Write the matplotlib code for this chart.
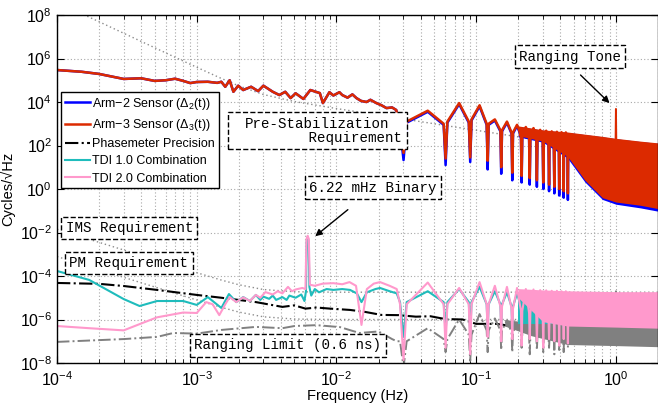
import matplotlib
matplotlib.use("Agg")
import matplotlib.pyplot as plt
import numpy as np

plt.rcParams["font.family"] = ["Liberation Sans", "DejaVu Sans"]
plt.rcParams["mathtext.fontset"] = "custom"
plt.rcParams["mathtext.rm"] = "Liberation Sans"
plt.rcParams["mathtext.it"] = "Liberation Sans:italic"
plt.rcParams["mathtext.bf"] = "Liberation Sans:bold"

# ---- data (values are log10 of cycles/sqrt(Hz)) ----
# arm sensors, low frequency part (both arms overlap here)
arm_lo_f = [1e-4, 1.5e-4, 2e-4, 3e-4, 4e-4, 5e-4, 6e-4, 7e-4, 8e-4, 9e-4, 1e-3,
            1.2e-3, 1.4e-3, 1.5e-3, 1.6e-3, 1.72e-3, 1.83e-3, 1.98e-3, 2.15e-3,
            2.45e-3, 2.75e-3, 3.0e-3, 3.5e-3, 3.9e-3, 4.3e-3, 4.7e-3, 5.1e-3,
            5.8e-3, 6.5e-3, 7.6e-3, 8.0e-3, 8.9e-3, 0.0095, 0.0105, 0.011,
            0.012, 0.013, 0.0139, 0.015, 0.0164, 0.0175, 0.0193, 0.021, 0.0228,
            0.025, 0.0268]
arm_lo_exp = [5.47, 5.39, 5.29, 5.06, 5.09, 4.97, 5.0, 5.07, 4.97, 4.87, 4.92,
              4.93, 4.88, 4.93, 4.7, 5.0, 4.47, 4.75, 4.55,
              4.7, 4.5, 4.75, 4.47, 4.32, 4.47, 4.18, 4.4,
              4.14, 4.55, 4.41, 3.95, 4.45, 4.3, 4.45, 4.32,
              4.2, 4.35, 4.18, 4.05, 4.0, 4.1, 3.95, 3.85, 3.72,
              3.75, 3.63]

# shared grid around the arm-length notches (shoulder, notch, shoulder, mid)
notch_f = [0.0285, 0.0302, 0.0318, 0.045,
           0.0585, 0.0604, 0.0622, 0.0755,
           0.0885, 0.0906, 0.0926, 0.1057,
           0.1188, 0.1208, 0.1228, 0.136,
           0.149, 0.151, 0.153, 0.166,
           0.179, 0.1812, 0.1834, 0.196,
           0.209, 0.2114, 0.2138, 0.2265,
           0.239, 0.2416, 0.2442, 0.257,
           0.269, 0.2718, 0.2746, 0.287,
           0.299, 0.302, 0.305, 0.317,
           0.329, 0.3322, 0.335, 0.347,
           0.359, 0.3624, 0.365, 0.378,
           0.390, 0.3926, 0.395, 0.408,
           0.420, 0.4228, 0.425, 0.438,
           0.450, 0.453, 0.456]

arm3_hi_exp = [2.85, 1.66, 3.1, 3.6,
               3.0, 1.4, 3.1, 3.95,
               3.1, 1.45, 3.2, 3.85,
               3.0, 1.3, 3.0, 3.2,
               2.7, 1.0, 2.7, 3.1,
               2.6, 0.75, 2.6, 2.95,
               2.5, 0.6, 2.5, 2.85,
               2.45, 0.5, 2.45, 2.8,
               2.4, 0.4, 2.4, 2.72,
               2.35, 0.3, 2.35, 2.68,
               2.3, 0.2, 2.3, 2.65,
               2.25, 0.1, 2.25, 2.63,
               2.2, 0.0, 2.2, 2.61,
               2.15, -0.1, 2.15, 2.6,
               2.1, -0.2, 2.1]
arm2_hi_exp = [2.8, 1.33, 3.05, 3.55,
               2.95, 1.1, 3.05, 3.9,
               3.05, 1.24, 3.15, 3.8,
               2.95, 0.9, 2.95, 3.15,
               2.65, 0.7, 2.65, 3.05,
               2.55, 0.4, 2.55, 2.9,
               2.45, 0.3, 2.45, 2.8,
               2.4, 0.2, 2.4, 2.75,
               2.35, 0.1, 2.35, 2.67,
               2.3, 0.0, 2.3, 2.63,
               2.25, -0.1, 2.25, 2.6,
               2.2, -0.2, 2.2, 2.58,
               2.15, -0.3, 2.15, 2.56,
               2.1, -0.4, 2.1, 2.55,
               2.05, -0.5, 2.05]

# dense high-frequency part of the arm sensors
arm_band_f = [0.2, 0.3, 0.45, 0.6, 0.8, 1.0, 1.5, 2.0]
arm3_band_top = [2.9, 2.72, 2.62, 2.52, 2.42, 2.33, 2.2, 2.12]
arm3_band_bot = [2.45, 2.2, 1.5, 0.4, -0.4, -0.6, -0.75, -0.9]
arm2_band_top = [2.88, 2.7, 2.6, 2.5, 2.4, 2.31, 2.18, 2.1]
arm2_band_bot = [2.4, 2.15, 1.42, 0.32, -0.48, -0.7, -0.87, -1.02]

# ranging tone at 1 Hz
tone_f = [0.995, 1.0, 1.005]
arm3_tone_exp = [2.33, 3.68, 2.33]
ranging_tone_exp = [-6.2, -4.7, -6.2]

# phasemeter precision
pm_f = [1e-4, 2e-4, 3e-4, 5.2e-4, 1e-3, 1.5e-3, 2.65e-3, 4.1e-3, 5e-3, 6e-3,
        7.2e-3, 9e-3, 0.0125, 0.016, 0.021, 0.028, 0.037, 0.047, 0.06, 0.08,
        0.1, 0.14, 0.2, 0.3, 0.5, 1.0, 2.0]
pm_exp = [-4.32, -4.36, -4.46, -4.64, -4.87, -5.0, -5.2, -5.42, -5.35, -5.5,
          -5.45, -5.5, -5.56, -5.65, -5.79, -5.8, -5.87, -5.85, -5.98, -6.0,
          -6.2, -6.2, -6.35, -6.4, -6.5, -6.55, -6.6]

# TDI 1.0 combination
tdi1_lo_f = [1e-4, 1.7e-4, 3e-4, 3.9e-4, 5.2e-4, 8e-4, 1e-3, 1.2e-3, 1.5e-3,
             1.7e-3, 1.92e-3, 2.15e-3, 2.4e-3, 2.65e-3, 2.85e-3, 3.0e-3, 3.3e-3,
             3.5e-3, 3.7e-3, 4.1e-3, 4.4e-3, 4.6e-3, 5.1e-3, 5.6e-3, 5.9e-3,
             6.05e-3, 6.12e-3, 6.22e-3, 6.32e-3, 6.4e-3, 6.6e-3, 7.0e-3, 7.5e-3,
             8.5e-3, 9.5e-3, 0.011, 0.0125, 0.014, 0.0151, 0.0165, 0.019,
             0.0205, 0.024, 0.027]
tdi1_lo_exp = [-3.77, -4.18, -5.06, -5.38, -5.15, -5.15, -5.33, -4.97, -5.47,
               -4.83, -5.2, -4.97, -5.15, -4.87, -5.1, -4.95, -5.05,
               -4.9, -5.1, -4.97, -5.1, -4.9, -5.0, -4.85, -5.15,
               -4.7, -2.4, -2.2, -2.4, -4.5, -4.9, -4.6, -4.75,
               -4.6, -4.64, -4.6, -4.64, -4.8, -5.2, -4.75, -4.6,
               -4.55, -4.7, -4.8]
tdi1_hi_exp = [-5.2, -6.8, -5.2, -4.7,
               -5.2, -6.6, -5.2, -4.6,
               -5.2, -6.7, -5.2, -4.5,
               -5.3, -6.4, -5.3, -4.7,
               -5.3, -6.3, -5.3, -4.75,
               -5.4, -6.4, -5.4, -4.8,
               -5.4, -6.3, -5.4, -4.85,
               -5.4, -6.4, -5.4, -4.85,
               -5.5, -6.3, -5.5, -4.9,
               -5.5, -6.4, -5.5, -4.9,
               -5.5, -6.3, -5.5, -4.9,
               -5.5, -6.4, -5.5, -4.9,
               -5.6, -6.3, -5.6, -4.9,
               -5.6, -6.4, -5.6, -4.9,
               -5.6, -6.3, -5.6]
tdi1_band_f = [0.2, 2.0]
tdi1_band_top = [-4.9, -4.9]
tdi1_band_bot = [-6.2, -6.2]

# TDI 2.0 combination
tdi2_lo_f = [1e-4, 1.7e-4, 3e-4, 3.6e-4, 5.2e-4, 8e-4, 1e-3, 1.17e-3, 1.3e-3,
             1.45e-3, 1.6e-3, 1.72e-3, 1.92e-3, 2.15e-3, 2.4e-3, 2.65e-3,
             2.85e-3, 3.1e-3, 3.5e-3, 3.8e-3, 4.1e-3, 4.5e-3, 4.8e-3, 5.1e-3,
             5.7e-3, 6.0e-3, 6.1e-3, 6.22e-3, 6.34e-3, 6.45e-3, 7.0e-3, 8e-3,
             9.5e-3, 0.011, 0.0124, 0.0138, 0.0151, 0.0165, 0.0185, 0.0205,
             0.024, 0.027]
tdi2_lo_exp = [-6.3, -6.4, -6.5, -6.3, -5.9, -5.68, -5.7, -5.2, -5.3,
               -5.8, -5.3, -4.97, -5.2, -4.98, -5.15, -4.87,
               -5.0, -4.74, -4.85, -4.7, -4.8, -4.5, -4.7, -4.62,
               -4.55, -4.6, -2.3, -2.15, -2.3, -4.4, -4.45, -4.35,
               -4.33, -4.38, -4.28, -4.45, -6.25, -4.6, -4.35, -4.28,
               -4.45, -4.6]
tdi2_hi_exp = [-5.3, -7.86, -5.3, -4.3,
               -5.3, -7.3, -5.3, -4.55,
               -5.3, -7.6, -5.3, -4.28,
               -5.3, -6.8, -5.3, -4.45,
               -5.4, -7.0, -5.4, -4.5,
               -5.5, -6.9, -5.5, -4.55,
               -5.6, -7.2, -5.6, -4.6,
               -5.7, -6.9, -5.7, -4.62,
               -5.8, -7.0, -5.8, -4.65,
               -5.8, -7.3, -5.8, -4.66,
               -5.9, -6.9, -5.9, -4.68,
               -5.9, -7.0, -5.9, -4.68,
               -6.0, -7.2, -6.0, -4.7,
               -6.0, -6.9, -6.0, -4.7,
               -6.0, -7.1, -6.0]
tdi2_band_f = [0.2, 0.3, 0.45, 1.0, 2.0]
tdi2_band_top = [-4.58, -4.64, -4.68, -4.72, -4.72]
tdi2_band_bot = [-5.0, -6.1, -6.3, -6.35, -6.4]

# ranging limit (0.6 ns)
rng_lo_f = [1e-4, 3e-4, 5.2e-4, 6.8e-4, 1e-3, 1.5e-3, 2.65e-3, 4.1e-3, 5e-3,
            7.2e-3, 0.0106, 0.0146, 0.02, 0.025, 0.027]
rng_lo_exp = [-7.03, -6.9, -6.8, -6.62, -6.65, -6.48, -6.34, -6.4, -6.3,
              -6.26, -6.35, -6.62, -6.55, -6.9, -7.0]
rng_hi_exp = [-7.0, -8.2, -7.0, -6.4,
              -6.9, -7.5, -6.9, -6.0,
              -6.7, -7.9, -6.7, -5.75,
              -6.5, -7.5, -6.5, -5.95,
              -6.5, -7.4, -6.5, -6.05,
              -6.6, -7.5, -6.6, -6.15,
              -6.6, -7.3, -6.6, -6.2,
              -6.7, -7.6, -6.7, -6.2,
              -6.7, -7.4, -6.7, -6.2,
              -6.7, -7.5, -6.7, -6.2,
              -6.8, -7.3, -6.8, -6.2,
              -6.8, -7.6, -6.8, -6.2,
              -6.8, -7.4, -6.8, -6.2,
              -6.8, -7.5, -6.8, -6.2,
              -6.8, -7.3, -6.8]
rng_band_f = [0.16, 0.25, 0.45, 1.0, 2.0]
rng_band_top = [-6.0, -6.15, -6.15, -6.18, -6.2]
rng_band_bot = [-6.3, -6.75, -7.15, -7.2, -7.25]

# requirement curves
req_f = [1e-4, 1.5e-4, 2e-4, 3e-4, 5e-4, 7e-4, 1e-3, 1.5e-3, 2e-3, 3e-3,
         5e-3, 1e-2, 2e-2, 5e-2, 0.1, 0.2, 0.5, 1.0, 2.0]
prestab_req = [3.9e8, 1.16e8, 4.9e7, 1.45e7, 3.14e6, 1.14e6, 3.95e5, 1.21e5,
               5.5e4, 2.21e4, 1.05e4, 5.0e3, 2.5e3, 1.0e3, 500, 250, 100, 50, 25]
ims_req = [1.41e-2, 6.27e-3, 3.53e-3, 1.57e-3, 5.65e-4, 2.89e-4, 1.42e-4, 6.5e-5,
           3.96e-5, 2.39e-5, 1.89e-5, 1.8e-5, 1.8e-5, 1.8e-5, 1.8e-5, 1.8e-5,
           1.8e-5, 1.8e-5, 1.8e-5]
pm_req = [7.84e-4, 3.48e-4, 1.96e-4, 8.7e-5, 3.14e-5, 1.6e-5, 7.9e-6, 3.63e-6,
          2.2e-6, 1.33e-6, 1.05e-6, 1.0e-6, 1.0e-6, 1.0e-6, 1.0e-6, 1.0e-6,
          1.0e-6, 1.0e-6, 1.0e-6]

BLUE = "#0000ff"
RED = "#dc2a00"
TEAL = "#1fbcbc"
PINK = "#ff99cc"
GRAY = "#808080"


def p(exps):
    return 10.0 ** np.array(exps)


fig = plt.figure(figsize=(6.58, 4.07), dpi=100)
ax = fig.add_axes([57 / 658, 1 - 363 / 407, 601 / 658, 348 / 407])
ax.set_xscale("log")
ax.set_yscale("log")

# requirement lines
req_style = dict(color="#8c8c8c", lw=1.0, ls=(0, (1, 2)), zorder=1.5)
ax.plot(req_f, prestab_req, **req_style)
ax.plot(req_f, ims_req, **req_style)
ax.plot(req_f, pm_req, **req_style)

# arm sensors
ax.fill_between(arm_band_f, p(arm2_band_bot), p(arm2_band_top), color=BLUE, lw=0, zorder=2)
ax.plot(arm_lo_f + notch_f, p(arm_lo_exp + arm2_hi_exp), color=BLUE, lw=1.8, zorder=2,
        label="Arm\u22122 Sensor ($\\Delta_2$(t))")
ax.fill_between(arm_band_f, p(arm3_band_bot), p(arm3_band_top), color=RED, lw=0, zorder=2.1)
ax.plot(arm_lo_f + notch_f, p(arm_lo_exp + arm3_hi_exp), color=RED, lw=1.8, zorder=2.1,
        label="Arm\u22123 Sensor ($\\Delta_3$(t))")
ax.plot(tone_f, p(arm3_tone_exp), color=RED, lw=1.4, zorder=2.1)

# phasemeter precision
ax.plot(pm_f, p(pm_exp), color="black", lw=1.5, ls="-.", zorder=2.2,
        label="Phasemeter Precision")

# ranging limit
ax.fill_between(rng_band_f, p(rng_band_bot), p(rng_band_top), color=GRAY, lw=0, zorder=2.3)
ax.plot(rng_lo_f + notch_f, p(rng_lo_exp + rng_hi_exp), color=GRAY, lw=1.4,
        ls="-.", zorder=2.3)
ax.plot(tone_f, p(ranging_tone_exp), color=GRAY, lw=1.3, ls="--", zorder=2.3)

# TDI combinations
ax.fill_between(tdi1_band_f, p(tdi1_band_bot), p(tdi1_band_top), color=TEAL, lw=0, zorder=2.4)
ax.plot(tdi1_lo_f + notch_f, p(tdi1_lo_exp + tdi1_hi_exp), color=TEAL, lw=1.5,
        zorder=2.4, label="TDI 1.0 Combination")
ax.fill_between(tdi2_band_f, p(tdi2_band_bot), p(tdi2_band_top), color=PINK, lw=0, zorder=2.5)
ax.plot(tdi2_lo_f + notch_f, p(tdi2_lo_exp + tdi2_hi_exp), color=PINK, lw=1.5,
        zorder=2.5, label="TDI 2.0 Combination")

ax.set_xlim(1e-4, 2)
ax.set_ylim(1e-8, 1e8)
ax.set_yticks([10.0 ** k for k in range(-8, 9, 2)])
ax.yaxis.set_minor_locator(matplotlib.ticker.NullLocator())
ax.tick_params(which="both", direction="in", top=True, right=True, labelsize=11.5)
ax.tick_params(axis="x", pad=5)
ax.tick_params(which="major", length=5)
ax.tick_params(which="minor", length=3)
ax.grid(True, which="major", axis="both", color="#a8a8a8", ls=(0, (1, 2)), lw=0.8)
ax.grid(True, which="minor", axis="x", color="#a8a8a8", ls=(0, (1, 2)), lw=0.8)
ax.set_axisbelow(True)
for s in ax.spines.values():
    s.set_linewidth(1.0)

ax.set_xlabel("Frequency (Hz)", fontsize=10.5, labelpad=0)
ax.set_ylabel("Cycles/\u221aHz", fontsize=10.5, labelpad=3)

# annotation boxes
box = dict(boxstyle="square,pad=0.3", fc="white", ec="black", ls="--", lw=1.0)
mono = dict(family="Liberation Mono", fontsize=10.2, zorder=5)
ax.text(0.8536, 0.8807, "Ranging Tone", transform=ax.transAxes, ha="center",
        va="center", bbox=box, **mono)
ax.text(0.4334, 0.668, "Pre-Stabilization\n         Requirement", transform=ax.transAxes,
        ha="center", va="center", bbox=box, linespacing=1.0, **mono)
ax.text(0.525, 0.504, "6.22 mHz Binary", transform=ax.transAxes, ha="center",
        va="center", bbox=box, **mono)
ax.text(0.1206, 0.388, "IMS Requirement", transform=ax.transAxes, ha="center",
        va="center", bbox=box, **mono)
ax.text(0.1198, 0.287, "PM Requirement", transform=ax.transAxes, ha="center",
        va="center", bbox=box, **mono)
ax.text(0.384, 0.0503, "Ranging Limit (0.6 ns)", transform=ax.transAxes, ha="center",
        va="center", bbox=box, **mono)

arrow = dict(arrowstyle="-|>", color="black", lw=1.0, mutation_scale=10)
ax.annotate("", xy=(0.93, 10 ** 3.86), xytext=(0.54, 10 ** 5.33), arrowprops=arrow, zorder=5)
ax.annotate("", xy=(6.8e-3, 10 ** -2.25), xytext=(0.0125, 10 ** -0.87), arrowprops=arrow, zorder=5)

leg = ax.legend(loc="upper left", bbox_to_anchor=(0.0067, 0.779), borderaxespad=0,
                fontsize=9.0, frameon=True, fancybox=False, framealpha=1,
                edgecolor="black", handlelength=2.0, handletextpad=0.2,
                borderpad=0.3, labelspacing=0.42)
leg.get_frame().set_linewidth(1.0)
leg.set_zorder(6)

fig.savefig("out.png", dpi=100)
